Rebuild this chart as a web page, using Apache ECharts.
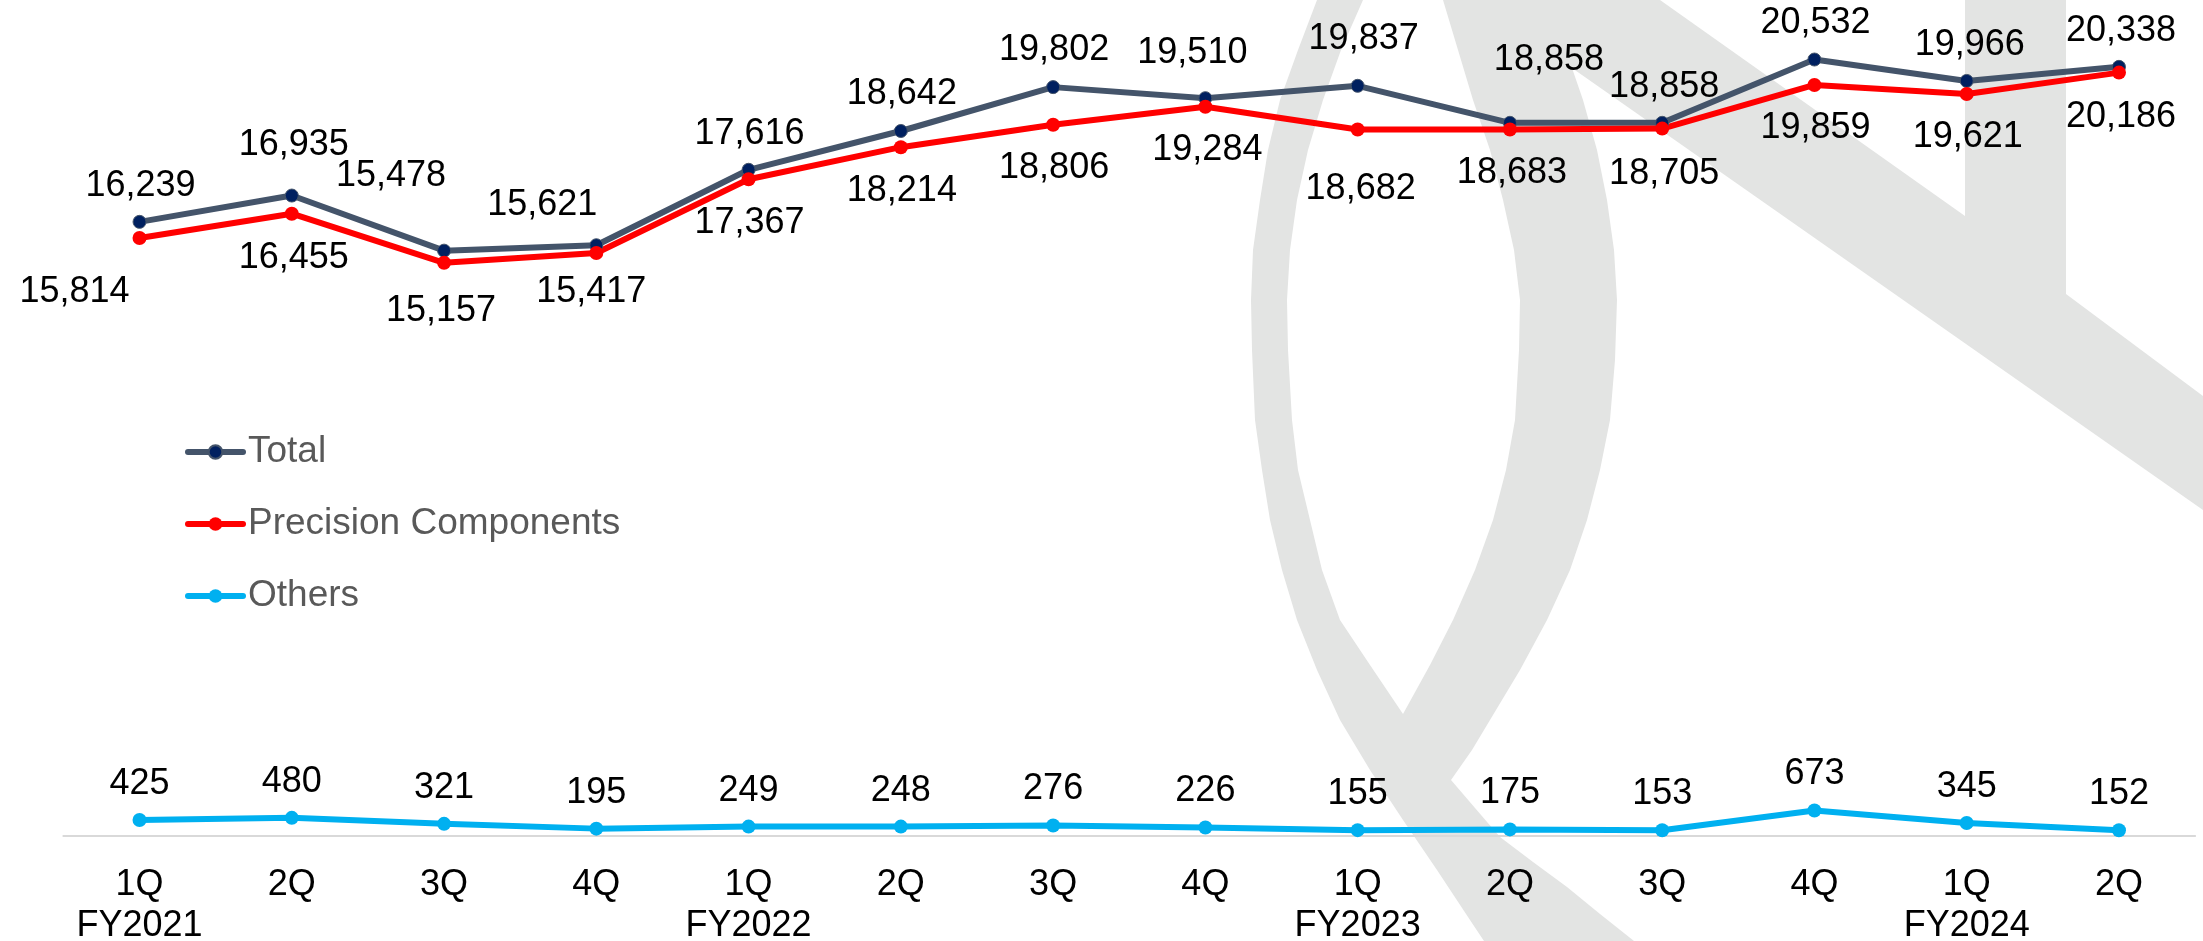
<!DOCTYPE html>
<html>
<head>
<meta charset="utf-8">
<title>Quarterly sales</title>
<script src="https://cdn.jsdelivr.net/npm/echarts@6/dist/echarts.min.js"></script>
<style>
  html, body { margin: 0; padding: 0; background: #fff; }
  #chart { width: 2203px; height: 941px; }
</style>
</head>
<body>
<div id="chart"></div>
<script>
const categories = ['1Q\nFY2021', '2Q', '3Q', '4Q', '1Q\nFY2022', '2Q', '3Q', '4Q', '1Q\nFY2023', '2Q', '3Q', '4Q', '1Q\nFY2024', '2Q']
const total = [16239, 16935, 15478, 15621, 17616, 18642, 19802, 19510, 19837, 18858, 18858, 20532, 19966, 20338]
const precision = [15814, 16455, 15157, 15417, 17367, 18214, 18806, 19284, 18682, 18683, 18705, 19859, 19621, 20186]
const others = [425, 480, 321, 195, 249, 248, 276, 226, 155, 175, 153, 673, 345, 152]

// labels were placed by hand in the original, so nudge each one (px)
const totalLabelOffset = [[1, -36], [2, -50], [-53, -75], [-54, -40], [1, -36], [1, -37], [1, -37],
    [-13, -45], [6, -47], [39, -63], [2, -36], [1, -36], [3, -36], [2, -36]]
const precisionLabelOffset = [[-65, 54], [2, 44], [-3, 48], [-5, 39], [1, 44], [1, 44], [1, 43],
    [2, 43], [3, 60], [2, 44], [2, 45], [1, 43], [1, 43], [2, 44]]
const othersLabelOffset = [0, -36]

const font = "'Liberation Sans', Arial, sans-serif"

const withOffsets = (values, offsets) => values.map((v, i) => ({
    value: v,
    label: { offset: offsets[i] }
}))

const dataLabel = {
    show: true,
    position: 'inside',
    color: '#000',
    fontSize: 36,
    fontFamily: font,
    formatter: p => echarts.format.addCommas(p.value)
}

// faint logo behind the plot
const watermark = [
    [1317, 0], [1298, 50], [1280, 100], [1268, 150], [1260, 200], [1253, 250], [1251, 300], [1252, 350],
    [1255, 420], [1262, 470], [1270, 520], [1282, 570], [1297, 620], [1317, 670], [1340, 720], [1370, 770],
    [1403, 820], [1437, 870], [1470, 920], [1484, 941],
    [1634, 941], [1600, 914], [1567, 887], [1533, 862], [1500, 837], [1475, 808], [1451, 780],
    [1472, 750], [1490, 720], [1520, 670], [1547, 620], [1570, 570], [1587, 520], [1600, 470], [1610, 420],
    [1615, 360], [1617, 300], [1614, 250], [1607, 200], [1597, 150], [1583, 100], [1572, 68],
    [2203, 510], [2203, 396], [2066, 294], [2066, 0], [1965, 0], [1965, 216], [1660, 0],
    [1443, 0], [1458, 50], [1473, 100], [1490, 150], [1503, 200], [1514, 250], [1520, 300], [1519, 350],
    [1515, 420], [1506, 470], [1493, 520], [1475, 570], [1453, 620], [1430, 665], [1403, 714],
    [1370, 665], [1340, 620], [1322, 570], [1310, 520], [1298, 470], [1292, 420], [1288, 350], [1287, 300],
    [1290, 250], [1297, 200], [1308, 150], [1323, 100], [1341, 50], [1363, 0]
]

const chart = echarts.init(document.getElementById('chart'))

chart.setOption({
    animation: false,
    backgroundColor: '#fff',
    graphic: {
        elements: [
            {
                type: 'polygon',
                silent: true,
                z: -10,
                shape: { points: watermark },
                style: { fill: '#e3e4e3' }
            }
        ]
    },
    legend: {
        orient: 'vertical',
        left: 185,
        top: 432,
        padding: 0,
        itemWidth: 55,
        itemHeight: 17,
        itemGap: 32,
        lineStyle: { width: 6, cap: 'round' },
        textStyle: {
            color: '#595959',
            fontSize: 37,
            lineHeight: 40,
            fontFamily: font
        },
        data: ['Total', 'Precision Components', 'Others']
    },
    grid: {
        left: 63.4,
        right: 7.9,
        top: 4,
        bottom: 105,
        outerBoundsMode: 'none'
    },
    xAxis: {
        type: 'category',
        data: categories,
        boundaryGap: true,
        axisLine: {
            lineStyle: { color: '#d9d9d9', width: 2 }
        },
        axisTick: { show: false },
        axisLabel: {
            interval: 0,
            margin: 29,
            color: '#000',
            fontSize: 36,
            lineHeight: 41,
            fontFamily: font
        }
    },
    yAxis: {
        type: 'value',
        min: 0,
        max: 22000,
        show: false
    },
    series: [
        {
            name: 'Total',
            type: 'line',
            data: withOffsets(total, totalLabelOffset),
            symbol: 'circle',
            symbolSize: 13,
            lineStyle: { color: '#44546a', width: 6 },
            itemStyle: { color: '#002060', borderColor: '#44546a', borderWidth: 1 },
            label: dataLabel
        },
        {
            name: 'Precision Components',
            type: 'line',
            data: withOffsets(precision, precisionLabelOffset),
            symbol: 'circle',
            symbolSize: 14,
            lineStyle: { color: '#ff0000', width: 6 },
            itemStyle: { color: '#ff0000' },
            label: dataLabel
        },
        {
            name: 'Others',
            type: 'line',
            data: others,
            symbol: 'circle',
            symbolSize: 14,
            lineStyle: { color: '#00b0f0', width: 6 },
            itemStyle: { color: '#00b0f0' },
            label: Object.assign({}, dataLabel, { offset: othersLabelOffset })
        }
    ]
})
</script>
</body>
</html>
